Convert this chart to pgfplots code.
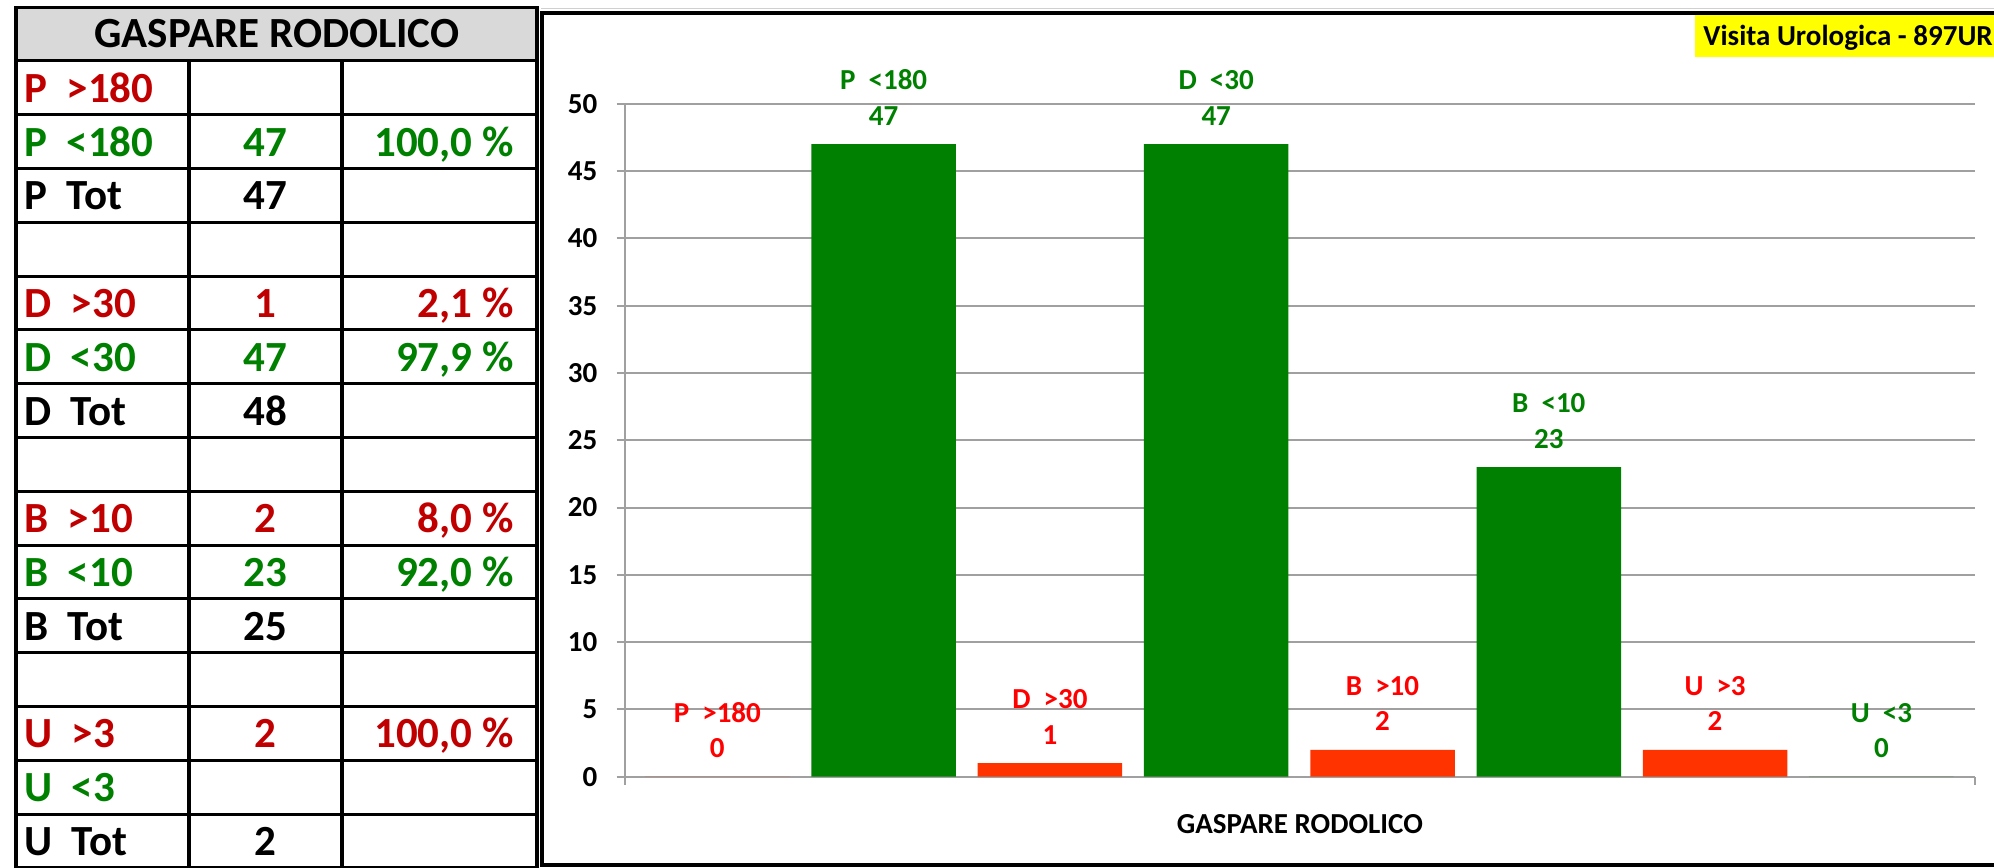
\documentclass[border=0pt]{standalone}
\usepackage{fontspec}
\setmainfont{Carlito}
\usepackage{pgfplots}
\pgfplotsset{compat=1.18}
\definecolor{tabred}{HTML}{C00000}
\definecolor{tabgreen}{HTML}{008000}
\definecolor{labred}{HTML}{FF0000}
\definecolor{labgreen}{HTML}{008000}
\definecolor{bargreen}{HTML}{008000}
\definecolor{barred}{HTML}{FF3300}
\definecolor{gridgray}{HTML}{A0A0A0}
\definecolor{headgray}{HTML}{D9D9D9}
\definecolor{hiyellow}{HTML}{FFFF00}
\newcommand\tf{\bfseries\fontsize{21.5}{25}\selectfont}
\newcommand\cf{\bfseries\fontsize{14.5}{17}\selectfont}
\newcommand\trow[5]{%
  \node[anchor=base west,inner sep=0pt,text=#2,font=\tf] at (24,#1) {#3};
  \node[anchor=base,inner sep=0pt,text=#2,font=\tf] at (265.5,#1) {#4};
  \node[anchor=base east,inner sep=0pt,text=#2,font=\tf] at (514,#1) {#5};}
\begin{document}
\begin{tikzpicture}[x=0.5pt,y=-0.5pt]
% ---------- table ----------
\fill[headgray] (16,7) rectangle (537,61);
\foreach \k in {0,...,16} {\draw[line width=1.5pt] (16,{7+\k*53.8}) -- (537,{7+\k*53.8});}
\draw[line width=1.75pt] (16,6) -- (16,870);
\draw[line width=1.75pt] (537,6) -- (537,870);
\draw[line width=1.75pt] (189,60.8) -- (189,870);
\draw[line width=1.75pt] (342,60.8) -- (342,870);
\node[anchor=base,inner sep=0pt,font=\tf] at (277,47) {GASPARE RODOLICO};
\trow{102.2}{tabred}{P\space\space>180}{}{}
\trow{156.0}{tabgreen}{P\space\space<180}{47}{100,0 \%}
\trow{209.8}{black}{P\space\space Tot}{47}{}
\trow{317.4}{tabred}{D\space\space>30}{1}{2,1 \%}
\trow{371.2}{tabgreen}{D\space\space<30}{47}{97,9 \%}
\trow{425.0}{black}{D\space\space Tot}{48}{}
\trow{532.6}{tabred}{B\space\space>10}{2}{8,0 \%}
\trow{586.4}{tabgreen}{B\space\space<10}{23}{92,0 \%}
\trow{640.2}{black}{B\space\space Tot}{25}{}
\trow{747.8}{tabred}{U\space\space>3}{2}{100,0 \%}
\trow{801.6}{tabgreen}{U\space\space<3}{}{}
\trow{855.4}{black}{U\space\space Tot}{2}{}
% ---------- chart frame ----------
\draw[gridgray!50,line width=0.5pt] (541,8.5) -- (2000,8.5);
\draw[line width=2pt] (2000,12.5) -- (541.5,12.5) -- (541.5,865) -- (2000,865);
\fill[hiyellow] (1695,15) rectangle (2000,56.7);
\node[anchor=base west,inner sep=0pt,font=\cf] at (1703,45) {Visita Urologica - 897UR};
% ---------- chart ----------
\begin{axis}[
  at={(312.35pt,-388.35pt)}, anchor=south west,
  scale only axis, width=675.15pt, height=336.5pt,
  xmin=-0.557, xmax=7.563, ymin=0, ymax=50,
  ytick={0,5,...,50}, xtick={-0.557,7.563}, xticklabels={},
  axis x line*=bottom, axis y line*=left,
  axis line style={draw=gridgray,line width=1pt},
  tick style={draw=gridgray,line width=1pt},
  major tick length=4pt, tick align=outside,
  ymajorgrids, grid style={draw=gridgray,line width=1pt},
  ticklabel style={font=\cf},
  yticklabel style={inner sep=0pt,xshift=-9.5pt},
  /pgf/number format/assume math mode=true,
  ybar, bar width=0.869, bar shift=0pt,
  clip=false,
  point meta=explicit symbolic,
  visualization depends on={y \as \rawy},
  nodes near coords={\pgfplotspointmeta\\\pgfmathprintnumber{\rawy}},
  every node near coord/.append style={align=center,
    font=\bfseries\fontsize{14.5}{17.75}\selectfont,
    inner sep=0pt, anchor=south, yshift=9.25pt},
]
\addplot[fill=barred, draw=none,
  every node near coord/.append style={text=labred}]
  coordinates {(0,0) [P\space\space>180] (2,1) [D\space\space>30]
               (4,2) [B\space\space>10] (6,2) [U\space\space>3]};
\addplot[fill=bargreen, draw=none,
  every node near coord/.append style={text=labgreen}]
  coordinates {(1,47) [P\space\space<180] (3,47) [D\space\space<30]
               (5,23) [B\space\space<10] (7,0) [U\space\space<3]};
\node[font=\cf,anchor=base,inner sep=0pt] at (rel axis cs:0.5,0) [yshift=-28.3pt] {GASPARE RODOLICO};
\end{axis}
\pgfresetboundingbox
\path[use as bounding box] (0,0) rectangle (1994,868);
\end{tikzpicture}
\end{document}
